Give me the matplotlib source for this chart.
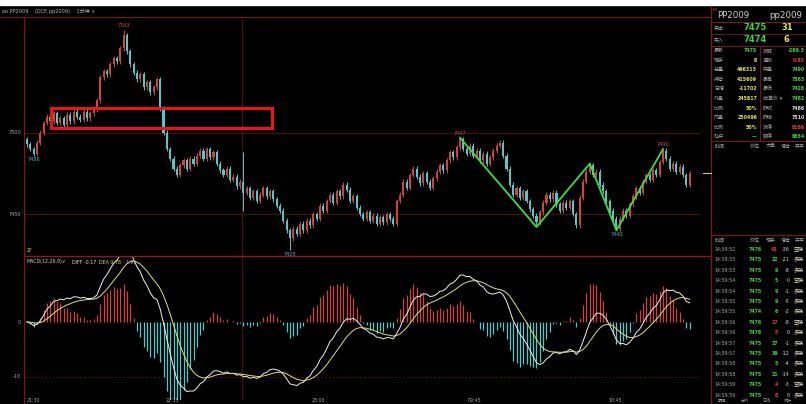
import numpy as np
import pandas as pd
import matplotlib
matplotlib.use('Agg')
import matplotlib.pyplot as plt
from matplotlib.lines import Line2D
from matplotlib.patches import Rectangle

plt.rcParams['font.family'] = ['DejaVu Sans', 'Noto Sans CJK SC']

# ---------------- data ----------------
closes = [
    7493, 7490, 7487, 7494, 7500, 7506, 7510, 7507, 7512, 7506,
    7509, 7505, 7511, 7507, 7513, 7510, 7508, 7513, 7509, 7512,
    7514, 7520, 7534, 7538, 7536, 7542, 7546, 7544, 7552, 7560,
    7550, 7542, 7537, 7533, 7536, 7528, 7531, 7525, 7528, 7533,
    7515, 7500, 7490, 7484, 7478, 7474, 7480, 7483, 7478, 7484,
    7481, 7486, 7489, 7484, 7490, 7485, 7488, 7481, 7477, 7474,
    7478, 7471, 7473, 7467, 7470, 7463, 7466, 7460, 7464, 7458,
    7462, 7466, 7461, 7464, 7459, 7455, 7452, 7446, 7440, 7435,
    7441, 7438, 7444, 7440, 7446, 7443, 7450, 7447, 7455, 7452,
    7458, 7462, 7457, 7464, 7461, 7468, 7465, 7458, 7461, 7454,
    7450, 7447, 7451, 7446, 7449, 7444, 7448, 7445, 7450, 7447,
    7444, 7458, 7462, 7470, 7466, 7474, 7478, 7473, 7469, 7475,
    7470, 7466, 7472, 7476, 7480, 7477, 7483, 7488, 7485, 7491,
    7496, 7490, 7487, 7492, 7486, 7489, 7483, 7487, 7481, 7485,
    7489, 7492, 7494, 7486, 7478, 7468, 7462, 7466, 7460, 7464,
    7458, 7453, 7449, 7445, 7451, 7457, 7462, 7459, 7463, 7456,
    7452, 7457, 7454, 7458, 7450, 7443, 7460, 7470, 7476, 7480,
    7474, 7476, 7468, 7464, 7458, 7452, 7447, 7441, 7447, 7452,
    7449, 7456, 7461, 7466, 7463, 7470, 7474, 7471, 7477, 7474,
    7482, 7489, 7484, 7478, 7481, 7476, 7479, 7474, 7468, 7475,
]
first_open = 7496
high_override = {29: 7563, 65: 7488, 130: 7497, 191: 7490}
low_override = {2: 7486, 65: 7452, 79: 7428, 177: 7440}

# extreme labels: (bar index, text, above?)
extreme_idx = [29, 2, 79, 130, 177, 191]
extreme_txt = ['7563', '7486', '7428', '7497', '7440', '7490']
extreme_top = [True, False, False, True, False, True]

# green zig-zag drawn by the user
zig_idx = [130, 153, 169, 177, 191]
zig_price = [7497, 7442, 7481, 7440, 7490]

# red box drawn by the user
box_idx = (7.2, 73.6)
box_price = (7503, 7515)

price_ticks = [7500, 7450]
macd_ticks = [0, -10]
session_break = 64.5
last_price = 7475

time_labels = ['21:30', '22:15', '23:00', '09:45', '10:45']
time_label_x = [33, 172, 318, 475, 615]

# right panel texts
info_l_lab = ['最新', '现手', '总量', '持仓', '日增', '外盘', '比例', '内盘', '比例', '杠杆']
info_l_val = ['7475', '8', '496313', '415609', '-11702', '245817', '50%', '250496', '50%', '—']
info_r_lab = ['涨跌', '速涨', '开盘', '最高', '最低', '结算价 ▾', '昨收', '昨结', '涨停', '跌停']
info_r_val = ['-289.3', '0.80', '7490', '7563', '7428', '7482', '7486', '7510', '8186', '6834']

tick_time = ['14:59:52', '14:59:53', '14:59:53', '14:59:54', '14:59:54', '14:59:55', '14:59:55',
             '14:59:56', '14:59:56', '14:59:57', '14:59:57', '14:59:58', '14:59:58', '14:59:59',
             '14:59:59']
tick_price = ['7476', '7475', '7475', '7475', '7475', '7475', '7474', '7476', '7476', '7475',
              '7475', '7475', '7475', '7475', '7475']
tick_vol = ['43', '22', '9', '5', '9', '9', '6', '17', '5', '27', '39', '5', '21', '4', '8']
tick_vol_up = [1, 0, 0, 0, 0, 0, 0, 1, 1, 0, 0, 0, 0, 1, 1]
tick_oi = ['-36', '-21', '-8', '0', '-1', '-5', '-2', '-8', '0', '-1', '-12', '-4', '-14', '-3', '0']
tick_type = ['空换', '多换', '多换', '空换', '多换', '多换', '多换', '空换', '多换', '多换', '多换',
             '多换', '多换', '空换', '多换']

# ---------------- colours ----------------
UP = '#d2423e'
DOWN = '#4fc9c9'
GRID = '#4c1010'
FRAME = '#7a1818'
LAB = '#a9a9a9'
YEL = '#e2e24a'
GRN = '#3bd23b'
RED = '#e23a3a'
WHT = '#d8d8d8'

W, H = 806, 404
fig = plt.figure(figsize=(W / 100, H / 100), dpi=100, facecolor='black')


def box(x0, y0, x1, y1):
    return [x0 / W, 1 - y1 / H, (x1 - x0) / W, (y1 - y0) / H]


def fx(x):
    return x / W


def fy(y):
    return 1 - y / H


def hline(y, x0, x1, color=FRAME, lw=0.8, ls='-'):
    fig.add_artist(Line2D([fx(x0), fx(x1)], [fy(y), fy(y)], color=color, lw=lw, ls=ls))


def vline(x, y0, y1, color=FRAME, lw=0.8):
    fig.add_artist(Line2D([fx(x), fx(x)], [fy(y0), fy(y1)], color=color, lw=lw))


def ftext(x, y, s, **kw):
    kw.setdefault('va', 'center')
    kw.setdefault('ha', 'left')
    fig.text(fx(x), fy(y), s, **kw)


# top white strip
fig.add_artist(Rectangle((0, fy(5)), 1, 5 / H, transform=fig.transFigure, color='white', zorder=0))

# ---------------- main candle chart ----------------
n = len(closes)
idx = np.arange(n)
opens = [first_open] + closes[:-1]
highs = []
lows = []
for i in range(n):
    highs.append(high_override.get(i, max(opens[i], closes[i]) + 1.5))
    lows.append(low_override.get(i, min(opens[i], closes[i]) - 1.5))

XL = (-0.6, 202.1)
ax = fig.add_axes(box(25, 17, 700, 256))
ax.set_facecolor('black')
ax.set_xlim(*XL)
ax.set_ylim(7424.2, 7571.2)
ax.axis('off')

for p in price_ticks:
    ax.axhline(p, color=GRID, lw=0.8)
ax.axvline(session_break, color=GRID, lw=0.8)

cols = [UP if c >= o else DOWN for o, c in zip(opens, closes)]
ax.vlines(idx, lows, highs, colors=cols, lw=0.7, zorder=3)
bodies_b = [min(o, c) for o, c in zip(opens, closes)]
bodies_h = [max(abs(c - o), 0.5) for o, c in zip(opens, closes)]
ax.bar(idx, bodies_h, bottom=bodies_b, width=0.62, color=cols, lw=0, zorder=4)

for i, t, top in zip(extreme_idx, extreme_txt, extreme_top):
    if top:
        ax.text(i, highs[i] + 1.2, t, color='#d04a4a', fontsize=3.6, ha='center', va='bottom', zorder=6)
    else:
        ax.text(i, lows[i] - 1.2, t, color='#4ab8c8', fontsize=3.6, ha='center', va='top', zorder=6)

ax.plot(zig_idx, zig_price, color='#3fdc3f', lw=1.3, zorder=7)
ax.add_patch(Rectangle((box_idx[0], box_price[0]), box_idx[1] - box_idx[0], box_price[1] - box_price[0],
                       fill=False, edgecolor='#e8151a', lw=2.2, zorder=8))

# ---------------- MACD ----------------
s = pd.Series(closes, dtype=float)
diff = s.ewm(span=12, adjust=False).mean() - s.ewm(span=26, adjust=False).mean()
dea = diff.ewm(span=9, adjust=False).mean()
hist = 2 * (diff - dea)

ax2 = fig.add_axes(box(25, 257, 700, 400))
ax2.set_facecolor('black')
ax2.set_xlim(*XL)
ax2.set_ylim(-14.2, 11.8)
ax2.axis('off')
ax2.axhline(-10, color=GRID, lw=0.8, ls=(0, (2, 1.5)))
ax2.axvline(session_break, color=GRID, lw=0.8)
hcol = [UP if v >= 0 else DOWN for v in hist]
ax2.vlines(idx, 0, hist, colors=hcol, lw=0.9)
ax2.plot(idx, diff, color='#eeeeee', lw=0.7)
ax2.plot(idx, dea, color='#dede7c', lw=0.7)

# ---------------- frames & axis labels ----------------
hline(17, 0, 711, color=FRAME, lw=0.8)
hline(256, 24, 711, color='#8a1a1a', lw=1.0)
vline(24, 17, 404, color=FRAME, lw=0.9)
vline(711, 6, 404, color=FRAME, lw=0.9)

for p in price_ticks:
    ypx = 132.7 + (7500 - p) * 1.626
    ftext(21, ypx, str(p), color=LAB, fontsize=3.6, ha='right')
for m in macd_ticks:
    ypx = 322 - m * 5.5
    ftext(21, ypx, str(m), color=LAB, fontsize=3.6, ha='right')

for t, x in zip(time_labels, time_label_x):
    ftext(x, 398.5, t, color=LAB, fontsize=3.4, va='top', ha='center')

# last-price marker
ypx_last = 132.7 + (7500 - last_price) * 1.626
hline(ypx_last, 703, 711, color='#c8c8a0', lw=0.8)

# header
ftext(2, 11, 'oo PP2009    (DCE pp2009)    1分钟 ∨', color='#b8b8b8', fontsize=3.6)
ftext(27, 251, '2F', color=YEL, fontsize=3.4)
ftext(27, 262, 'MACD(12,26,9)∨', color='#cfcfcf', fontsize=3.4)
ftext(72, 262, 'DIFF -0.17', color='#e6e6e6', fontsize=3.4)
ftext(99, 262, 'DEA 0.78', color=YEL, fontsize=3.4)
ftext(125, 262, '-1.91', color='#e0a0e0', fontsize=3.4)

# ---------------- right panel ----------------
ftext(713, 10, 'M', color=RED, fontsize=3.2)
ftext(717, 15, 'PP2009', color='#cfcfcf', fontsize=6.2)
ftext(769, 15, 'pp2009', color='#cfcfcf', fontsize=6.2)
hline(22, 711, 806)
ftext(714, 28, '卖出', color=LAB, fontsize=3.6)
ftext(743, 28, '7475', color=GRN, fontsize=6, fontweight='bold')
ftext(781, 28, '31', color=YEL, fontsize=6, fontweight='bold')
hline(34, 711, 806, lw=0.6)
ftext(714, 40, '买入', color=LAB, fontsize=3.6)
ftext(743, 40, '7474', color=GRN, fontsize=6, fontweight='bold')
ftext(784, 40, '6', color=YEL, fontsize=6, fontweight='bold')
hline(45.5, 711, 806)
vline(760, 45.5, 141, color=FRAME, lw=0.6)

for k in range(len(info_l_lab)):
    ypx = 50.5 + k * 9.6
    ftext(714, ypx, info_l_lab[k], color=LAB, fontsize=3.6)
    vc = GRN if k in (0, 9) else YEL
    ftext(757, ypx, info_l_val[k], color=vc, fontsize=3.4, ha='right', fontweight='bold')
    ftext(763, ypx, info_r_lab[k], color=LAB, fontsize=3.6)
    if k == 0:
        rc = GRN
    elif k in (1, 8):
        rc = RED
    elif k in (6, 7):
        rc = WHT
    else:
        rc = GRN
    ftext(805, ypx, info_r_val[k], color=rc, fontsize=3.4, fontweight='bold', ha='right')

hline(141, 711, 806)
for t, x in zip(['时间', '价位', '大单', '增仓', '开平'], [715, 750, 766, 781, 795]):
    ftext(x, 146, t, color=LAB, fontsize=3.6)
hline(235, 711, 806)
for t, x in zip(['时间', '价位', '现手', '增仓', '开平'], [715, 750, 766, 781, 795]):
    ftext(x, 240, t, color=LAB, fontsize=3.6)

for k in range(len(tick_time)):
    ypx = 249.5 + k * 10.4
    ftext(714, ypx, tick_time[k], color=LAB, fontsize=3.4)
    ftext(749, ypx, tick_price[k], color=GRN, fontsize=3.4, fontweight='bold')
    ftext(778, ypx, tick_vol[k], color=RED if tick_vol_up[k] else GRN, fontsize=3.4, ha='right',
          fontweight='bold')
    ftext(790, ypx, tick_oi[k], color=WHT, fontsize=3.4, ha='right')
    ftext(794, ypx, tick_type[k], color='#e8e0c0', fontsize=3.6)

for t, x in zip(['明细', '分价', '日线', '统计'], [718, 741, 762, 784]):
    ftext(x, 401, t, color=LAB, fontsize=3.0)

fig.savefig('out.png', dpi=100, facecolor='black')
